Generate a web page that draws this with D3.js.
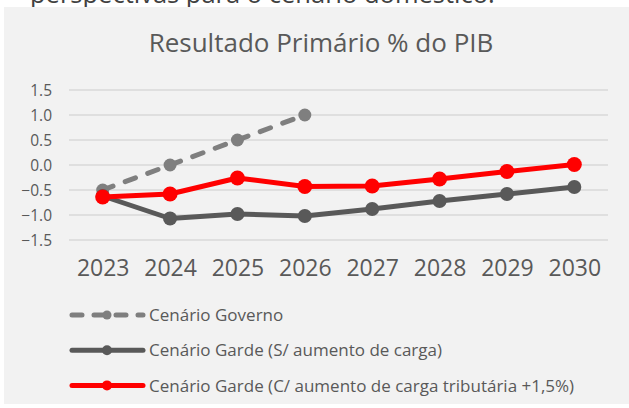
<!DOCTYPE html>
<html>
<head>
<meta charset="utf-8">
<script src="https://cdn.jsdelivr.net/npm/d3@7"></script>
<style>
  body { margin: 0; background: #fff; }
  text { font-family: "Open Sans", "Noto Sans", sans-serif; fill: #595959; }
</style>
</head>
<body>
<svg id="chart"></svg>
<script>
let years = ["2023", "2024", "2025", "2026", "2027", "2028", "2029", "2030"];
let yTicks = [1.5, 1.0, 0.5, 0.0, -0.5, -1.0, -1.5];

let governo = [-0.5, 0.0, 0.5, 1.0];
let gardeSem = [-0.62, -1.07, -0.98, -1.02, -0.88, -0.72, -0.58, -0.44];
let gardeCom = [-0.64, -0.58, -0.26, -0.43, -0.42, -0.28, -0.13, 0.01];

let seriesNames = [
    "Cenário Governo",
    "Cenário Garde (S/ aumento de carga)",
    "Cenário Garde (C/ aumento de carga tributária +1,5%)"
];

let width = 629;
let height = 408;

let plot = {left: 69, right: 608, top: 90, bottom: 240};

let svg = d3.select('#chart')
            .attr('width', width)
            .attr('height', height);

// cut off text of the page above the chart
svg.append('text')
    .attr('x', 30)
    .attr('y', 3)
    .text("perspectivas para o cenário doméstico.")
    .style('font-size', '25.5px')
    .style('fill', '#404040');

// chart panel
svg.append('rect')
    .attr('x', 4)
    .attr('y', 7)
    .attr('width', width - 4)
    .attr('height', 397)
    .attr('fill', '#f2f2f2');

svg.append('text')
    .attr('x', 321)
    .attr('y', 52)
    .text("Resultado Primário % do PIB")
    .style('font-size', '26px')
    .style('text-anchor', 'middle');

let x = d3.scalePoint()
            .domain(years)
            .range([plot.left, plot.right])
            .padding(0.5);

let y = d3.scaleLinear()
            .domain([-1.5, 1.5])
            .range([plot.bottom, plot.top]);

// gridlines
svg.selectAll('line.grid')
    .data(yTicks).enter()
    .append('line')
        .attr('x1', plot.left)
        .attr('x2', plot.right)
        .attr('y1', d => y(d))
        .attr('y2', d => y(d))
        .attr('stroke', '#d9d9d9')
        .attr('stroke-width', 1.5);

// y axis labels
let yAxis = svg.append('g')
            .attr('transform', `translate(${plot.left - 17},0)`)
            .call(d3.axisLeft(y).tickValues(yTicks).tickFormat(d3.format('.1f')).tickSize(0).tickPadding(0));
yAxis.select('.domain').remove();
yAxis.selectAll('text')
    .attr('dy', '0.36em')
    .style('font-size', '15.5px')
    .style('fill', '#595959')
    .style('font-family', '"Open Sans", sans-serif');

// x axis labels
let xAxis = svg.append('g')
            .attr('transform', `translate(0,${plot.bottom + 36})`)
            .call(d3.axisBottom(x).tickSize(0).tickPadding(0));
xAxis.select('.domain').remove();
xAxis.selectAll('text')
    .attr('dy', 0)
    .style('font-size', '23px')
    .style('fill', '#595959')
    .style('font-family', '"Open Sans", sans-serif');

let series = [
    {name: seriesNames[0], values: governo, color: '#7f7f7f', dash: '11,13', r: 6.5, lr: 4.5},
    {name: seriesNames[1], values: gardeSem, color: '#595959', dash: null, r: 7, lr: 5},
    {name: seriesNames[2], values: gardeCom, color: '#ff0000', dash: null, r: 7.5, lr: 5}
];

let line = d3.line()
            .x((d, i) => x(years[i]))
            .y(d => y(d));

// draw lines
let g = svg.selectAll('g.series')
            .data(series).enter()
            .append('g')
            .attr('class', 'series');

g.append('path')
    .attr('d', d => line(d.values))
    .attr('fill', 'none')
    .attr('stroke', d => d.color)
    .attr('stroke-width', 5)
    .attr('stroke-linecap', 'round')
    .attr('stroke-linejoin', 'round')
    .attr('stroke-dasharray', d => d.dash);

g.selectAll('circle')
    .data(d => d.values.map(v => ({v: v, s: d})))
    .enter().append('circle')
        .attr('cx', (d, i) => x(years[i]))
        .attr('cy', d => y(d.v))
        .attr('r', d => d.s.r)
        .attr('fill', d => d.s.color);

// legend
let legend = svg.selectAll('g.legend')
                .data(series).enter()
                .append('g')
                .attr('transform', (d, i) => `translate(72,${315 + i * 35.2})`);

legend.append('line')
    .attr('x1', 0)
    .attr('x2', 71)
    .attr('stroke', d => d.color)
    .attr('stroke-width', 5)
    .attr('stroke-linecap', 'round')
    .attr('stroke-dasharray', (d, i) => i == 0 ? '10,12' : null);

legend.append('circle')
    .attr('cx', 35)
    .attr('r', d => d.lr)
    .attr('fill', d => d.color);

legend.append('text')
    .attr('x', 77)
    .attr('dy', '0.36em')
    .text(d => d.name)
    .style('font-size', '17px');
</script>
</body>
</html>
